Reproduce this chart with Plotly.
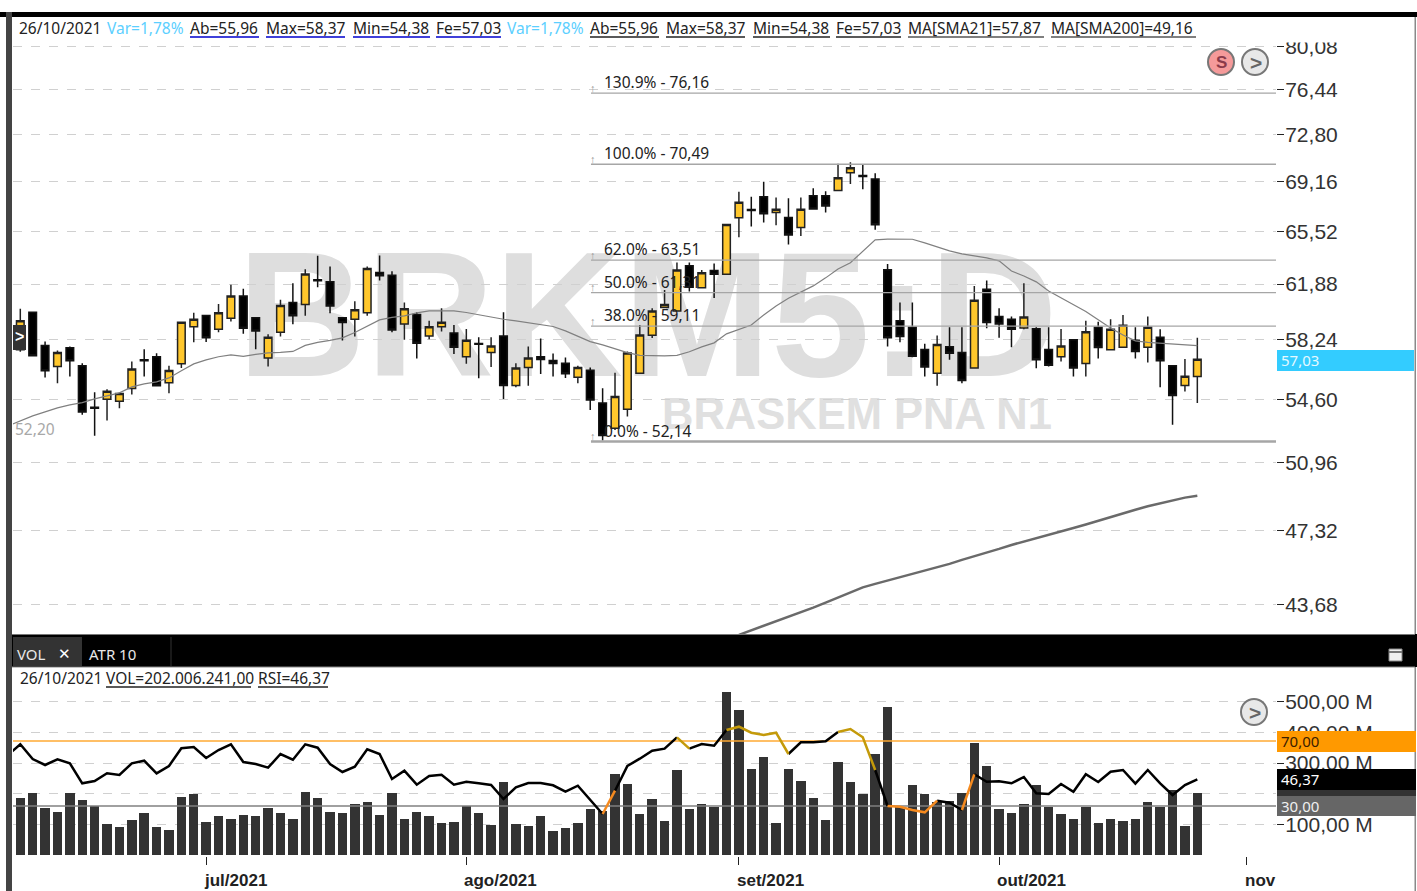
import math
import plotly.graph_objects as go

W, H = 1417, 891

OPEN = [57.61,60.02,57.88,56.57,57.74,56.62,54.12,54.60,54.48,55.24,56.99,57.18,55.58,56.74,59.08,59.81,58.91,59.63,61.09,59.65,57.10,58.73,60.65,60.52,62.17,62.03,59.65,59.56,59.99,62.66,62.48,59.26,59.86,58.49,59.08,58.68,57.18,58.01,57.44,58.49,55.42,56.51,57.18,56.95,56.78,55.92,56.35,54.37,52.91,54.01,56.17,58.54,60.32,60.10,63.12,61.63,62.80,62.55,66.50,67.11,68.05,66.88,66.52,65.80,68.12,68.12,68.50,69.85,69.64,69.37,62.86,59.47,59.04,57.63,56.17,57.81,57.44,56.49,61.54,59.73,59.56,59.00,58.95,57.63,57.18,58.24,56.76,59.04,57.61,57.78,58.22,57.78,58.41,56.62,55.42,55.96]
HIGH = [60.24,60.02,58.13,57.57,57.82,56.78,55.02,55.20,55.00,56.88,57.65,57.40,56.62,59.39,59.99,59.84,60.56,61.83,61.56,59.65,58.60,60.83,61.94,62.89,63.81,63.07,59.65,60.74,63.07,63.83,62.75,60.65,60.02,59.47,60.28,59.19,58.93,58.41,58.41,60.02,56.78,57.82,58.32,57.38,57.13,56.62,56.51,55.26,56.20,57.50,59.19,60.28,61.49,63.35,63.35,62.84,63.28,66.02,68.42,68.05,69.17,67.98,67.93,67.98,68.68,68.45,70.52,70.65,70.46,69.80,63.25,60.65,60.65,58.00,58.51,59.04,59.04,61.76,62.12,60.28,59.73,61.94,59.04,59.04,58.93,58.24,59.47,59.39,59.56,59.84,59.04,59.73,58.91,56.62,57.04,58.37]
LOW = [57.49,57.24,55.90,55.56,55.96,53.68,52.47,53.35,54.07,54.88,55.96,55.36,54.96,56.49,58.09,58.11,58.73,59.41,58.62,57.65,56.57,58.45,59.24,59.78,61.67,59.95,58.20,58.45,59.78,62.12,58.73,58.24,57.07,58.28,58.77,57.35,56.74,55.86,56.54,54.62,55.32,55.40,56.12,55.96,55.88,55.56,53.97,52.20,52.81,53.58,56.17,58.35,60.28,60.06,61.38,61.61,60.95,62.55,65.12,65.87,66.16,65.97,64.60,65.21,67.08,66.88,68.50,69.00,68.60,65.64,57.82,58.09,57.15,55.96,55.40,56.99,55.56,56.47,58.98,58.37,57.78,58.91,56.47,56.57,56.88,55.96,55.96,57.07,57.61,57.78,57.07,56.82,55.32,53.10,55.06,54.38]
CLOSE = [59.47,57.24,56.31,57.44,56.93,53.84,54.06,55.08,54.94,56.43,56.93,55.40,56.33,59.37,59.56,58.37,59.99,61.09,58.98,58.81,58.41,60.45,59.78,62.57,62.10,60.43,59.35,60.17,62.93,62.45,58.87,60.25,58.03,59.08,59.37,57.78,58.22,57.97,57.86,55.42,56.49,57.10,57.01,56.76,56.14,56.51,54.56,52.49,54.76,57.42,58.55,60.09,60.52,62.84,61.67,62.64,62.55,66.02,67.64,67.04,66.79,67.13,65.28,67.13,67.15,67.37,69.47,70.22,69.56,66.00,58.37,58.45,57.21,56.54,57.95,57.40,55.72,60.81,59.35,59.26,58.91,59.71,56.99,56.66,57.86,56.49,58.75,57.76,58.91,59.17,57.50,59.04,56.93,54.82,55.98,57.03]

SMA21 = [53.04,53.33,53.62,53.85,54.09,54.27,54.40,54.62,54.80,54.98,55.34,55.52,55.64,55.88,56.31,56.74,56.99,57.18,57.30,57.21,57.33,57.42,57.45,57.51,57.89,58.08,58.21,58.37,58.71,59.13,59.52,59.68,59.78,59.97,60.10,60.10,60.10,60.00,59.84,59.71,59.56,59.45,59.32,59.19,59.09,58.81,58.49,58.13,57.92,57.67,57.44,57.27,57.24,57.24,57.27,57.49,57.80,58.05,58.62,58.93,59.19,59.84,60.43,60.93,61.35,61.76,62.30,62.91,63.33,64.16,64.93,64.98,64.98,64.97,64.72,64.44,64.16,63.95,63.81,63.67,63.46,62.77,62.43,62.03,61.42,60.96,60.50,60.06,59.52,59.00,58.55,58.18,58.08,58.03,57.99,57.96,57.87]
SMA21_START = -1

SMA200 = [42.26,42.47,42.67,42.88,43.08,43.29,43.53,43.77,44.02,44.28,44.50,44.67,44.83,44.99,45.16,45.32,45.50,45.65,45.85,46.02,46.22,46.40,46.60,46.78,46.96,47.13,47.29,47.47,47.65,47.85,48.05,48.23,48.42,48.60,48.76,48.92,49.06,49.16]
SMA200_START = 58

VOLUME = [185,203,153,140,203,180,160,100,90,113,136,90,81,190,199,109,126,117,131,126,153,136,117,207,185,140,136,167,172,131,203,117,140,126,104,109,160,136,98,237,101,93,128,79,89,106,151,144,263,231,134,182,111,277,151,165,157,532,473,280,321,106,280,241,187,115,303,237,200,331,483,157,227,200,173,177,201,367,290,151,138,165,227,157,134,119,157,106,119,111,119,173,157,213,93,202.01]

RSI = [61.4,67.97,58.92,55.23,58.74,56.28,43.97,45.38,50.12,49.08,56.28,57.88,50.12,54.62,65.51,66.31,59.54,64.46,67.97,57.08,55.85,53.57,62.0,58.49,67.97,65.88,55.85,50.92,54.19,64.89,62.0,46.62,51.72,43.11,48.46,49.26,43.11,44.95,43.97,42.92,34.31,41.51,44.15,44.15,42.74,38.8,42.49,33.69,25.08,39.42,54.62,59.11,64.03,65.26,72.28,65.26,68.15,67.11,76.77,78.8,75.11,73.69,75.11,62.0,69.2,69.2,69.82,75.54,77.39,72.28,52.15,30.0,29.57,27.54,26.12,33.26,32.03,27.54,49.51,44.95,45.2,43.97,47.85,37.82,37.38,43.54,38.8,49.51,44.77,51.11,52.15,43.72,52.15,43.97,36.77,42.92,46.37]
RSI_START = -1
RSI_ORANGE = [(47, 48), (70, 74), (76, 77)]
RSI_GOLD = [(53, 54), (57, 62), (66, 69)]
RSI_BLACK = [(-1, 47), (48, 53), (54, 57), (62, 66), (69, 70), (74, 76), (77, 95)]

FIB_LEVELS = [76.16, 70.49, 63.51, 61.31, 59.11, 52.14]
FIB_LABELS = ["130.9% - 76,16", "100.0% - 70,49", "62.0% - 63,51", "50.0% - 61,31", "38.0% - 59,11", "0.0% - 52,14"]

PRICE_TICKS = [80.08, 76.44, 72.80, 69.16, 65.52, 61.88, 58.24, 54.60, 50.96, 47.32, 43.68]
VOL_TICKS = [100, 200, 300, 400, 500]
VOL_TICK_LABELS = ["100,00 M", "200,00 M", "300,00 M", "400,00 M", "500,00 M"]
MONTH_TICKS = [15, 36, 58, 79, 99]
MONTH_LABELS = ["jul/2021", "ago/2021", "set/2021", "out/2021", "nov"]
RSI_HI, RSI_LO = 70, 30

UI = "Noto Sans"
AXF = "Liberation Sans"


def px(x):
    return x / W


def py(y):
    return 1 - y / H


idx = list(range(len(CLOSE)))
XR = [-0.589, 101.35]
fig = go.Figure()
shapes = []
annots = []

# main pane
fig.add_trace(go.Scatter(x=[SMA200_START + i for i in range(len(SMA200))], y=SMA200, mode="lines",
                         line=dict(color="#6a6a6a", width=2.5), xaxis="x", yaxis="y", showlegend=False))
fig.add_trace(go.Candlestick(x=idx, open=OPEN, high=HIGH, low=LOW, close=CLOSE, xaxis="x", yaxis="y",
                             increasing=dict(fillcolor="#FFC72C", line=dict(color="#222222", width=1.5)),
                             decreasing=dict(fillcolor="#000000", line=dict(color="#111111", width=1.5)),
                             whiskerwidth=0, showlegend=False))
fig.add_trace(go.Scatter(x=[SMA21_START + i for i in range(len(SMA21))], y=SMA21, mode="lines",
                         line=dict(color="#808080", width=1.2), xaxis="x", yaxis="y", showlegend=False))
for lvl, lab in zip(FIB_LEVELS, FIB_LABELS):
    w = 2.5 if lvl == FIB_LEVELS[-1] else 1.3
    fig.add_trace(go.Scatter(x=[46.06, XR[1]], y=[lvl, lvl], mode="lines", line=dict(color="#a6a6a6", width=w),
                             xaxis="x", yaxis="y", showlegend=False))
    annots.append(dict(xref="x", yref="y", x=47.0, y=math.log10(lvl), text=lab, showarrow=False,
                       xanchor="left", yanchor="middle", yshift=11, borderpad=0,
                       font=dict(family=UI, size=15.5, color="#222222")))
    annots.append(dict(xref="x", yref="y", x=46.25, y=math.log10(lvl), text="↑", showarrow=False,
                       xanchor="center", yanchor="middle", yshift=6, borderpad=0,
                       font=dict(family=UI, size=11, color="#999999")))

# lower pane
fig.add_trace(go.Bar(x=idx, y=VOLUME, marker=dict(color="#333333", line=dict(width=0)), width=0.76,
                     xaxis="x2", yaxis="y2", showlegend=False))
fig.add_trace(go.Scatter(x=[XR[0], XR[1]], y=[RSI_HI, RSI_HI], mode="lines", line=dict(color="#ffaa33", width=1.5),
                         xaxis="x2", yaxis="y3", showlegend=False))
fig.add_trace(go.Scatter(x=[XR[0], XR[1]], y=[RSI_LO, RSI_LO], mode="lines", line=dict(color="#808080", width=1.5),
                         xaxis="x2", yaxis="y3", showlegend=False))
for segs, col in ((RSI_BLACK, "#000000"), (RSI_ORANGE, "#f58a1f"), (RSI_GOLD, "#c49a0a")):
    for a, b in segs:
        xs = list(range(a, b + 1))
        ys = [RSI[i - RSI_START] for i in xs]
        fig.add_trace(go.Scatter(x=xs, y=ys, mode="lines", line=dict(color=col, width=2.5),
                                 xaxis="x2", yaxis="y3", showlegend=False))


def rect(x0, y0, x1, y1, fill, line=None, lw=0, layer="above", kind="rect"):
    shapes.append(dict(type=kind, xref="paper", yref="paper", x0=px(x0), x1=px(x1), y0=py(y0), y1=py(y1),
                       fillcolor=fill, line=dict(color=line or fill, width=lw), layer=layer))


def hline(x0, x1, y, color, w=1):
    shapes.append(dict(type="line", xref="paper", yref="paper", x0=px(x0), x1=px(x1), y0=py(y), y1=py(y),
                       line=dict(color=color, width=w), layer="above"))


def text(x, y, s, color="#222222", size=15.5, family=UI, anchor="left", bold=False):
    annots.append(dict(xref="paper", yref="paper", x=px(x), y=py(y), text=f"<b>{s}</b>" if bold else s,
                       showarrow=False, xanchor=anchor, yanchor="middle", align="left",
                       font=dict(family=family, size=size, color=color), borderpad=0, borderwidth=0))


# watermark
shapes.append(dict(type="rect", xref="paper", yref="paper", x0=px(245), x1=px(1050), y0=py(203), y1=py(391),
                   line=dict(width=0), fillcolor="rgba(0,0,0,0)", layer="below",
                   label=dict(text="<b>BRKM5:D</b>", textposition="middle center",
                              font=dict(family="Liberation Sans", size=178, color="#dedede"))))
shapes.append(dict(type="rect", xref="paper", yref="paper", x0=px(660), x1=px(1054), y0=py(386), y1=py(432),
                   line=dict(width=0), fillcolor="rgba(0,0,0,0)", layer="below",
                   label=dict(text="<b>BRASKEM PNA N1</b>", textposition="middle center",
                              font=dict(family="Liberation Sans", size=43.5, color="#e0e0e0"))))

# chrome
rect(0, 0, W, 12, "#ffffff")
rect(0, 12, W, 17, "#000000")
rect(1277, 17, 1414, 42.5, "#ffffff")
rect(6, 12, 12, H, "#444444")
rect(1414.5, 17, 1416, H, "#8a8a8a")
rect(12, 634, W, 667, "#000000")
hline(12, 1415, 634.5, "#777777", 1.2)
hline(12, 1415, 667, "#888888", 1.2)
rect(13, 637, 82, 666, "#333333")
shapes.append(dict(type="line", xref="paper", yref="paper", x0=px(171), x1=px(171), y0=py(637), y1=py(666),
                   line=dict(color="#333333", width=1), layer="above"))
text(17, 654, "VOL", "#e8e8e8", 15)
text(58, 654, "<b>✕</b>", "#ffffff", 15, "DejaVu Sans")
text(89, 654, "ATR 10", "#e8e8e8", 15)
rect(1389, 649, 1402, 661, "#f0f0f0", "#888888", 1)
hline(1389, 1402, 652, "#777777", 2)

# header texts
HEAD = [("26/10/2021", 19, 100, "#222222", None), ("Var=1,78%", 107, 183, "#5ccfff", None),
        ("Ab=55,96", 190, 259, "#222222", "#0000cc"), ("Max=58,37", 266, 345, "#222222", "#0000cc"),
        ("Min=54,38", 353, 430, "#222222", "#0000cc"), ("Fe=57,03", 436, 501, "#222222", "#0000cc"),
        ("Var=1,78%", 507, 583, "#5ccfff", None), ("Ab=55,96", 590, 659, "#222222", "#222222"),
        ("Max=58,37", 666, 745, "#222222", "#222222"), ("Min=54,38", 753, 830, "#222222", "#222222"),
        ("Fe=57,03", 836, 901, "#222222", "#222222"), ("MA[SMA21]=57,87", 908, 1044, "#222222", "#555555"),
        ("MA[SMA200]=49,16", 1051, 1196, "#222222", "#555555")]
for s, x0, x1, c, u in HEAD:
    text(x0, 28, s, c)
    if u:
        hline(x0, x1, 37, u, 1.3)
LOWHEAD = [("26/10/2021", 20, 100, "#222222", None), ("VOL=202.006.241,00", 106, 251, "#222222", "#222222"),
           ("RSI=46,37", 258, 328, "#222222", "#222222")]
for s, x0, x1, c, u in LOWHEAD:
    text(x0, 678, s, c)
    if u:
        hline(x0, x1, 687, u, 1.3)

text(15, 429, "52,20", "#a8a8a8")

# price / level flags
rect(1277, 350, 1414, 371, "#33ccff")
text(1281, 360, "57,03", "#e6f9ff", 15)
rect(1277, 731, 1416, 752, "#ff9900")
text(1281, 741, "70,00", "#3a2000", 15)
rect(1277, 790, 1416, 796, "#333333")
rect(1277, 769, 1416, 790, "#000000")
text(1281, 779, "46,37", "#ffffff", 15)
rect(1277, 796, 1416, 816, "#666666")
text(1281, 806, "30,00", "#f0f0f0", 15)

# buttons
rect(1208, 49, 1234, 75, "#f59a9a", "#777777", 2, kind="circle")
text(1221, 62, "S", "#8a3a4a", 17, "Liberation Sans", "center", True)
for cy, cx in ((62, 1255), (712, 1254)):
    rect(cx - 13, cy - 13, cx + 13, cy + 13, "#e8e8e8", "#777777", 2, kind="circle")
    text(cx + 1, cy, ">", "#666666", 21, "Liberation Sans", "center", True)
rect(13, 325, 26, 350, "#333333")
text(19.5, 337, ">", "#ffffff", 16, "Liberation Sans", "center", True)

# month labels
for t, lab in zip(MONTH_TICKS, MONTH_LABELS):
    annots.append(dict(xref="x2", yref="paper", x=t, y=py(880), text=f"<b>{lab}</b>", showarrow=False,
                       xanchor="left", yanchor="middle", xshift=-3,
                       font=dict(family="Liberation Sans", size=17, color="#222222"), borderpad=0))

GRID = "#d0d0d0"
fig.update_layout(
    width=W, height=H, autosize=False, margin=dict(l=0, r=0, t=0, b=0),
    paper_bgcolor="#ffffff", plot_bgcolor="rgba(0,0,0,0)", showlegend=False, bargap=0, boxgap=0.12,
    shapes=shapes, annotations=annots, hovermode=False,
    xaxis=dict(domain=[px(13), px(1276)], range=XR, anchor="y", showgrid=False, zeroline=False,
               showticklabels=False, ticks="", rangeslider=dict(visible=False), showline=False),
    yaxis=dict(domain=[py(634), py(17)], type="log", range=[1.62634, 1.91766], side="right", anchor="x",
               tickmode="array", tickvals=PRICE_TICKS, ticktext=[f"{v:.2f}".replace(".", ",") for v in PRICE_TICKS],
               showgrid=True, gridcolor=GRID, griddash="dash", gridwidth=1, zeroline=False,
               ticks="outside", ticklen=7, tickcolor="#222222", tickwidth=1.2, ticklabelstandoff=-3,
               tickfont=dict(family=AXF, size=21, color="#333333")),
    xaxis2=dict(domain=[px(13), px(1276)], range=XR, anchor="y2", showgrid=False, zeroline=False,
                tickmode="array", tickvals=MONTH_TICKS, ticktext=["" for _ in MONTH_TICKS], ticks="outside",
                ticklen=8, tickcolor="#222222", tickwidth=1, showline=False),
    yaxis2=dict(domain=[py(856), py(667)], range=[-3.3, 613.4], side="right", anchor="x2",
                tickmode="array", tickvals=VOL_TICKS, ticktext=VOL_TICK_LABELS,
                showgrid=True, gridcolor=GRID, griddash="dash", gridwidth=1, zeroline=False,
                ticks="outside", ticklen=7, tickcolor="#222222", tickwidth=1.2, ticklabelstandoff=-3,
                tickfont=dict(family=AXF, size=21, color="#333333")),
    yaxis3=dict(domain=[py(856), py(667)], range=[-0.77, 115.54], overlaying="y2", side="right", anchor="x2",
                showgrid=False, zeroline=False, showticklabels=False, ticks=""),
)

fig.write_html("out.html", post_script="document.body.style.margin='0';document.documentElement.style.overflow='hidden';",
               config=dict(displayModeBar=False))
